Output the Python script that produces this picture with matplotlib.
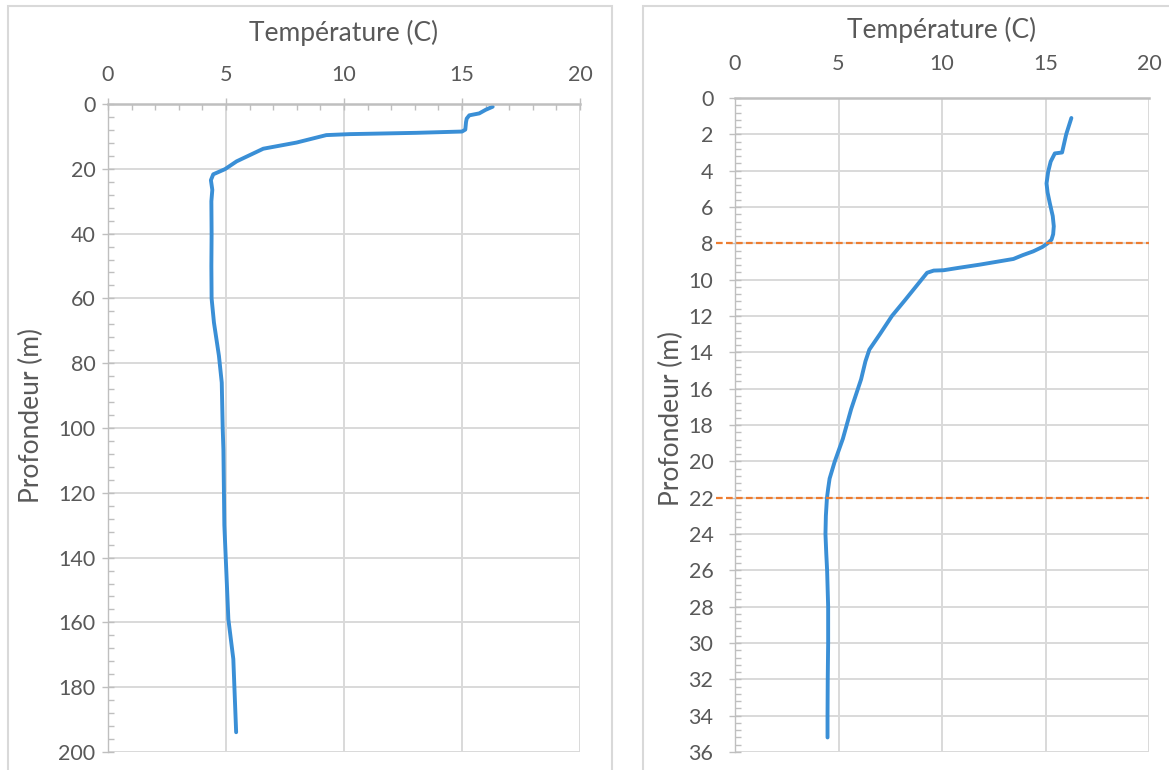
import matplotlib
matplotlib.use("Agg")
import matplotlib.pyplot as plt
from matplotlib.ticker import MultipleLocator
from matplotlib.patches import Rectangle

# ---- data ----
depth_full = [0.84, 1.8, 2.9, 3.5, 4.5, 5.6, 7.9, 8.5, 8.9, 9.3, 9.6, 11.9, 13.8, 17.7,
              20.1, 21.7, 23.5, 26.5, 30, 40, 50, 60, 67.5, 77.7, 86, 100, 106.7, 130,
              159, 171.3, 193.9]
temp_full = [16.3, 16.0, 15.73, 15.31, 15.2, 15.17, 15.14, 15.0, 13.06, 10.24, 9.25, 7.99,
             6.58, 5.45, 4.96, 4.46, 4.36, 4.42, 4.38, 4.39, 4.38, 4.39, 4.49, 4.7, 4.82,
             4.86, 4.89, 4.93, 5.1, 5.31, 5.43]

depth_zoom = [1.1, 2.0, 3.0, 3.05, 3.5, 4.05, 4.7, 5.2, 5.8, 6.5, 7.06, 7.5, 7.8, 8.0, 8.2,
              8.44, 8.65, 8.86, 9.17, 9.35, 9.48, 9.5, 9.62, 10.0, 11.13, 12.0, 13.0, 13.5,
              13.85, 14.5, 15.49, 17.13, 18.76, 20.04, 20.95, 21.5, 22.04, 23.0, 24.0, 25.1,
              26, 28, 30, 32, 34, 35.2]
temp_zoom = [16.25, 16.0, 15.8, 15.45, 15.25, 15.13, 15.05, 15.1, 15.21, 15.35, 15.4, 15.37,
             15.29, 15.1, 14.85, 14.41, 13.9, 13.45, 11.84, 10.8, 10.08, 9.6, 9.28, 9.01,
             8.21, 7.58, 7.0, 6.7, 6.49, 6.3, 6.09, 5.61, 5.21, 4.81, 4.57, 4.5, 4.44,
             4.39, 4.37, 4.41, 4.45, 4.5, 4.5, 4.48, 4.47, 4.47]

limit_depths = [8, 22]

x_label = "Température (C)"
y_label = "Profondeur (m)"

# ---- style ----
plt.rcParams['font.family'] = ['Lato', 'DejaVu Sans']
TXT = '#595959'
GRID = '#d9d9d9'
AX = '#bfbfbf'
BLUE = '#3a8fd6'
ORANGE = '#ed7d31'
FS = 15.5
FT = 19

W, H = 1169, 770
fig = plt.figure(figsize=(W / 100, H / 100), dpi=100)
fig.patch.set_facecolor('white')

def fx(px):
    return px / W

def fy(py):
    return 1 - py / H

# panel borders
fig.patches.append(Rectangle((fx(8), fy(790)), fx(612) - fx(8), fy(6) - fy(790),
                             transform=fig.transFigure, fill=False, edgecolor=GRID, lw=1.5))
fig.patches.append(Rectangle((fx(643), fy(790)), fx(1190) - fx(643), fy(6) - fy(790),
                             transform=fig.transFigure, fill=False, edgecolor=GRID, lw=1.5))

ax1 = fig.add_axes([fx(108), fy(752), fx(580) - fx(108), fy(104) - fy(752)])
ax2 = fig.add_axes([fx(735), fy(752), fx(1149) - fx(735), fy(98) - fy(752)])

def style(ax, ymax, ymaj, ymin, xminor, xpad, ypad):
    ax.set_xlim(0, 20)
    ax.set_ylim(ymax, 0)
    ax.xaxis.tick_top()
    ax.xaxis.set_major_locator(MultipleLocator(5))
    ax.yaxis.set_major_locator(MultipleLocator(ymaj))
    ax.yaxis.set_minor_locator(MultipleLocator(ymin))
    if xminor:
        ax.xaxis.set_minor_locator(MultipleLocator(1))
    ax.grid(True, which='major', color=GRID, lw=1.4)
    ax.set_axisbelow(True)
    for s in ['bottom', 'right']:
        ax.spines[s].set_visible(False)
    ax.spines['top'].set_color(AX)
    ax.spines['top'].set_linewidth(1.8)
    ax.spines['left'].set_color(AX)
    ax.spines['left'].set_linewidth(1.0)
    ax.tick_params(axis='x', which='major', direction='inout', length=8 if xminor else 0,
                   color=AX, width=1, labelsize=FS, labelcolor=TXT, pad=xpad)
    ax.tick_params(axis='x', which='minor', direction='in', length=4, color=AX, width=1)
    ax.tick_params(axis='y', which='major', direction='inout', length=8, color=AX, width=1,
                   labelsize=FS, labelcolor=TXT, pad=ypad)
    ax.tick_params(axis='y', which='minor', direction='in', length=4, color=AX, width=1)

style(ax1, 200, 20, 4, True, 10, 5)
style(ax2, 36, 2, 0.4, False, 17, 11.5)

ax1.plot(temp_full, depth_full, color=BLUE, lw=2.8, solid_capstyle='round', solid_joinstyle='round')
ax2.plot(temp_zoom, depth_zoom, color=BLUE, lw=2.8, solid_capstyle='round', solid_joinstyle='round')
for d in limit_depths:
    ax2.axhline(d, xmin=-0.045, xmax=1.0, color=ORANGE, lw=1.6, ls=(0, (3, 1.5)), clip_on=False)

ax1.text(0.5, 1 + (104 - 33) / 648, x_label, transform=ax1.transAxes, ha='center', va='center',
         fontsize=FT, color=TXT)
ax2.text(0.5, 1 + (98 - 30) / 654, x_label, transform=ax2.transAxes, ha='center', va='center',
         fontsize=FT, color=TXT)

ax1.set_ylabel(y_label, fontsize=FT, color=TXT)
ax1.yaxis.set_label_coords((44 - 108) / 472, 0.52)
ax2.set_ylabel(y_label, fontsize=FT, color=TXT)
ax2.yaxis.set_label_coords((684 - 735) / 414, 0.51)

fig.savefig('out.png', dpi=100, facecolor='white')
